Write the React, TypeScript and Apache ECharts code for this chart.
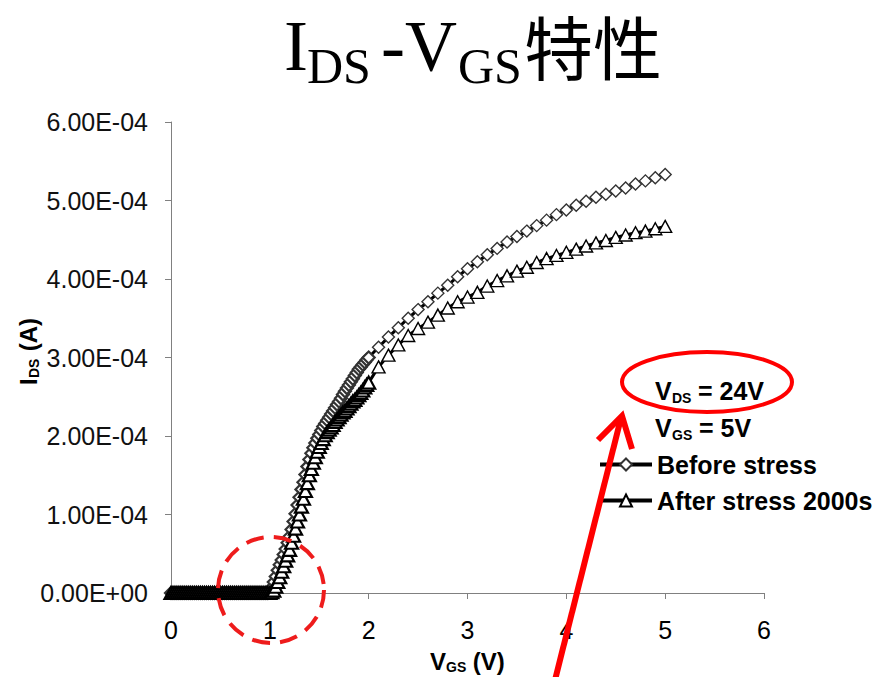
import React, { useEffect, useRef } from 'react';
import * as echarts from 'echarts';

// Gate voltage sweep (V): fine steps up to 2 V, then 0.1 V steps
const vgs = [
  0.00, 0.02, 0.04, 0.06, 0.08, 0.10, 0.12, 0.14, 0.16, 0.18,
  0.20, 0.22, 0.24, 0.26, 0.28, 0.30, 0.32, 0.34, 0.36, 0.38,
  0.40, 0.42, 0.44, 0.46, 0.48, 0.50, 0.52, 0.54, 0.56, 0.58,
  0.60, 0.62, 0.64, 0.66, 0.68, 0.70, 0.72, 0.74, 0.76, 0.78,
  0.80, 0.82, 0.84, 0.86, 0.88, 0.90, 0.92, 0.94, 0.96, 0.98,
  1.00, 1.02, 1.04, 1.06, 1.08, 1.10, 1.12, 1.14, 1.16, 1.18,
  1.20, 1.22, 1.24, 1.26, 1.28, 1.30, 1.32, 1.34, 1.36, 1.38,
  1.40, 1.42, 1.44, 1.46, 1.48, 1.50, 1.52, 1.54, 1.56, 1.58,
  1.60, 1.62, 1.64, 1.66, 1.68, 1.70, 1.72, 1.74, 1.76, 1.78,
  1.80, 1.82, 1.84, 1.86, 1.88, 1.90, 1.92, 1.94, 1.96, 1.98,
  2.00,
  2.1, 2.2, 2.3, 2.4, 2.5, 2.6, 2.7, 2.8, 2.9, 3.0,
  3.1, 3.2, 3.3, 3.4, 3.5, 3.6, 3.7, 3.8, 3.9, 4.0,
  4.1, 4.2, 4.3, 4.4, 4.5, 4.6, 4.7, 4.8, 4.9, 5.0,
];

// Drain current, in units of 1e-4 A
const idsBefore = [
  0, 0, 0, 0, 0, 0, 0, 0, 0, 0,
  0, 0, 0, 0, 0, 0, 0, 0, 0, 0,
  0, 0, 0, 0, 0, 0, 0, 0, 0, 0,
  0, 0, 0, 0, 0, 0, 0, 0, 0, 0,
  0, 0, 0, 0, 0, 0, 0, 0, 0, 0,
  0.01, 0.07, 0.14, 0.21, 0.29, 0.36, 0.42, 0.49, 0.56, 0.64,
  0.72, 0.81, 0.91, 1.01, 1.12, 1.22, 1.32, 1.41, 1.51, 1.61,
  1.70, 1.78, 1.85, 1.91, 1.97, 2.02, 2.07, 2.12, 2.16, 2.20,
  2.24, 2.28, 2.32, 2.36, 2.40, 2.44, 2.48, 2.53, 2.57, 2.61,
  2.65, 2.69, 2.73, 2.77, 2.81, 2.85, 2.88, 2.91, 2.94, 2.97,
  3.00,
  3.13, 3.26, 3.38, 3.50, 3.61, 3.71, 3.82, 3.92, 4.03, 4.13,
  4.22, 4.31, 4.39, 4.47, 4.54, 4.61, 4.68, 4.75, 4.82, 4.88,
  4.94, 4.99, 5.04, 5.08, 5.12, 5.16, 5.21, 5.25, 5.29, 5.33,
];

const idsAfter = [
  0, 0, 0, 0, 0, 0, 0, 0, 0, 0,
  0, 0, 0, 0, 0, 0, 0, 0, 0, 0,
  0, 0, 0, 0, 0, 0, 0, 0, 0, 0,
  0, 0, 0, 0, 0, 0, 0, 0, 0, 0,
  0, 0, 0, 0, 0, 0, 0, 0, 0, 0,
  0.00, 0.01, 0.03, 0.08, 0.14, 0.20, 0.27, 0.34, 0.41, 0.48,
  0.55, 0.64, 0.73, 0.82, 0.91, 1.00, 1.10, 1.20, 1.30, 1.40,
  1.50, 1.58, 1.66, 1.73, 1.80, 1.86, 1.91, 1.96, 2.01, 2.05,
  2.08, 2.11, 2.14, 2.18, 2.21, 2.24, 2.27, 2.30, 2.32, 2.35,
  2.38, 2.41, 2.44, 2.46, 2.49, 2.52, 2.55, 2.58, 2.62, 2.65,
  2.68,
  2.88, 3.03, 3.16, 3.28, 3.37, 3.45, 3.54, 3.63, 3.71, 3.77,
  3.83, 3.91, 3.98, 4.04, 4.10, 4.15, 4.21, 4.26, 4.30, 4.34,
  4.38, 4.42, 4.46, 4.49, 4.53, 4.56, 4.59, 4.61, 4.64, 4.67,
];

const seriesNames = ['Before stress', 'After stress 2000s'];
const xTicks = { min: 0, max: 6, interval: 1 };
const yTicks = { min: 0, max: 6e-4, interval: 1e-4 };
const fineSweepEnd = 2.0; // last voltage of the fine (dense) sweep

const SANS = "Arial, 'Liberation Sans', sans-serif";
const SERIF = "'Times New Roman', 'Liberation Serif', serif";
const CJK = "'Noto Sans CJK SC'";

function sci(v: number): string {
  if (v === 0) return '0.00E+00';
  let e = Math.floor(Math.log10(Math.abs(v)) + 1e-9);
  let ms = (v / Math.pow(10, e)).toFixed(2);
  if (parseFloat(ms) >= 10) { e += 1; ms = (v / Math.pow(10, e)).toFixed(2); }
  return ms + 'E' + (e < 0 ? '-' : '+') + String(Math.abs(e)).padStart(2, '0');
}

type TxtOpt = { x: number; y: number; text: string; size: number; family?: string; bold?: boolean; rotation?: number };
const txt = (o: TxtOpt) => ({
  type: 'text',
  x: o.x,
  y: o.y,
  rotation: o.rotation || 0,
  z: 50,
  style: {
    text: o.text,
    fontFamily: o.family || SANS,
    fontSize: o.size,
    fontWeight: o.bold === false ? 'normal' : 'bold',
    fill: '#000',
    align: 'left',
    verticalAlign: 'middle',
  },
});

function buildData(ids: number[], denseBorder: string) {
  return vgs.map((v, i) => {
    const item: any = { value: [v, ids[i] * 1e-4] };
    if (v <= fineSweepEnd) item.itemStyle = { borderWidth: 2.2, borderColor: denseBorder };
    return item;
  });
}

export default function App() {
  const ref = useRef<HTMLDivElement>(null);
  useEffect(() => {
    if (!ref.current) return;
    const chart = echarts.init(ref.current, undefined, { renderer: 'svg' });
    const R = Math.PI / 2;
    chart.setOption({
      animation: false,
      backgroundColor: '#fff',
      grid: { left: 171, right: 113, top: 122, bottom: 84, containLabel: false },
      xAxis: {
        type: 'value',
        min: xTicks.min, max: xTicks.max, interval: xTicks.interval,
        axisLine: { show: true, lineStyle: { color: '#808080', width: 1 } },
        axisTick: { show: true, inside: false, length: 6, lineStyle: { color: '#808080' } },
        splitLine: { show: false },
        axisLabel: { margin: 24, fontFamily: SANS, fontSize: 25, color: '#000' },
      },
      yAxis: {
        type: 'value',
        min: yTicks.min, max: yTicks.max, interval: yTicks.interval,
        axisLine: { show: true, lineStyle: { color: '#808080', width: 1 } },
        axisTick: { show: true, inside: false, length: 6, lineStyle: { color: '#808080' } },
        splitLine: { show: false },
        axisLabel: { margin: 23, fontFamily: SANS, fontSize: 25, color: '#111', formatter: (v: number) => sci(v) },
      },
      legend: {
        orient: 'vertical',
        left: 593,
        top: 447,
        itemWidth: 52,
        itemHeight: 15,
        itemGap: 11,
        selectedMode: false,
        lineStyle: { color: '#000', width: 4 },
        textStyle: { fontFamily: SANS, fontWeight: 'bold', fontSize: 25, color: '#000' },
        data: seriesNames,
      },
      series: [
        {
          name: seriesNames[0],
          type: 'line',
          data: buildData(idsBefore, '#333'),
          symbol: 'diamond',
          symbolSize: 12,
          showSymbol: true,
          showAllSymbol: true,
          lineStyle: { color: '#000', width: 3 },
          itemStyle: { color: '#fff', borderColor: '#333', borderWidth: 1.4 },
          emphasis: { disabled: true },
          z: 2,
        },
        {
          name: seriesNames[1],
          type: 'line',
          data: buildData(idsAfter, '#000'),
          symbol: 'triangle',
          symbolSize: [13, 12],
          showSymbol: true,
          showAllSymbol: true,
          lineStyle: { color: '#000', width: 3 },
          itemStyle: { color: '#fff', borderColor: '#000', borderWidth: 1.4 },
          emphasis: { disabled: true },
          z: 3,
        },
      ],
      graphic: [
        // title
        txt({ x: 284, y: 46, text: 'I', size: 72, family: SERIF, bold: false }),
        txt({ x: 307, y: 66, text: 'DS', size: 50, family: SERIF, bold: false }),
        txt({ x: 381, y: 46, text: '-V', size: 72, family: SERIF, bold: false }),
        txt({ x: 458, y: 66, text: 'GS', size: 50, family: SERIF, bold: false }),
        txt({ x: 524, y: 45, text: '特性', size: 69, family: CJK, bold: false }),
        // conditions
        txt({ x: 655, y: 391, text: 'V', size: 25 }),
        txt({ x: 672, y: 398, text: 'DS', size: 14 }),
        txt({ x: 691, y: 391, text: ' = 24V', size: 25 }),
        txt({ x: 655, y: 428, text: 'V', size: 25 }),
        txt({ x: 672, y: 435, text: 'GS', size: 14 }),
        txt({ x: 692, y: 428, text: ' = 5V', size: 25 }),
        // x axis title
        txt({ x: 430, y: 661, text: 'V', size: 24 }),
        txt({ x: 446, y: 667, text: 'GS', size: 14 }),
        txt({ x: 466, y: 661, text: ' (V)', size: 24 }),
        // y axis title (rotated)
        txt({ x: 28, y: 385, text: 'I', size: 24, rotation: R }),
        txt({ x: 34, y: 378, text: 'DS', size: 14, rotation: R }),
        txt({ x: 28, y: 358, text: ' (A)', size: 24, rotation: R }),
        // annotations
        {
          type: 'ellipse', z: 100,
          shape: { cx: 707, cy: 382, rx: 85, ry: 30 },
          style: { fill: 'none', stroke: '#ff0000', lineWidth: 4 },
        },
        {
          type: 'circle', z: 100,
          shape: { cx: 271, cy: 590, r: 53 },
          style: { fill: 'none', stroke: '#ee1c1c', lineWidth: 4, lineDash: [18, 10] },
        },
        {
          type: 'line', z: 100,
          shape: { x1: 555, y1: 680, x2: 621, y2: 418 },
          style: { stroke: '#ff0000', lineWidth: 6 },
        },
        {
          type: 'polyline', z: 100,
          shape: { points: [[598, 440], [622, 416], [632, 449]] },
          style: { fill: 'none', stroke: '#ff0000', lineWidth: 6 },
        },
      ],
    });
    return () => chart.dispose();
  }, []);
  return (
    <div
      ref={ref}
      style={{ position: 'fixed', left: 0, top: 0, width: 877, height: 677, background: '#fff' }}
    />
  );
}
